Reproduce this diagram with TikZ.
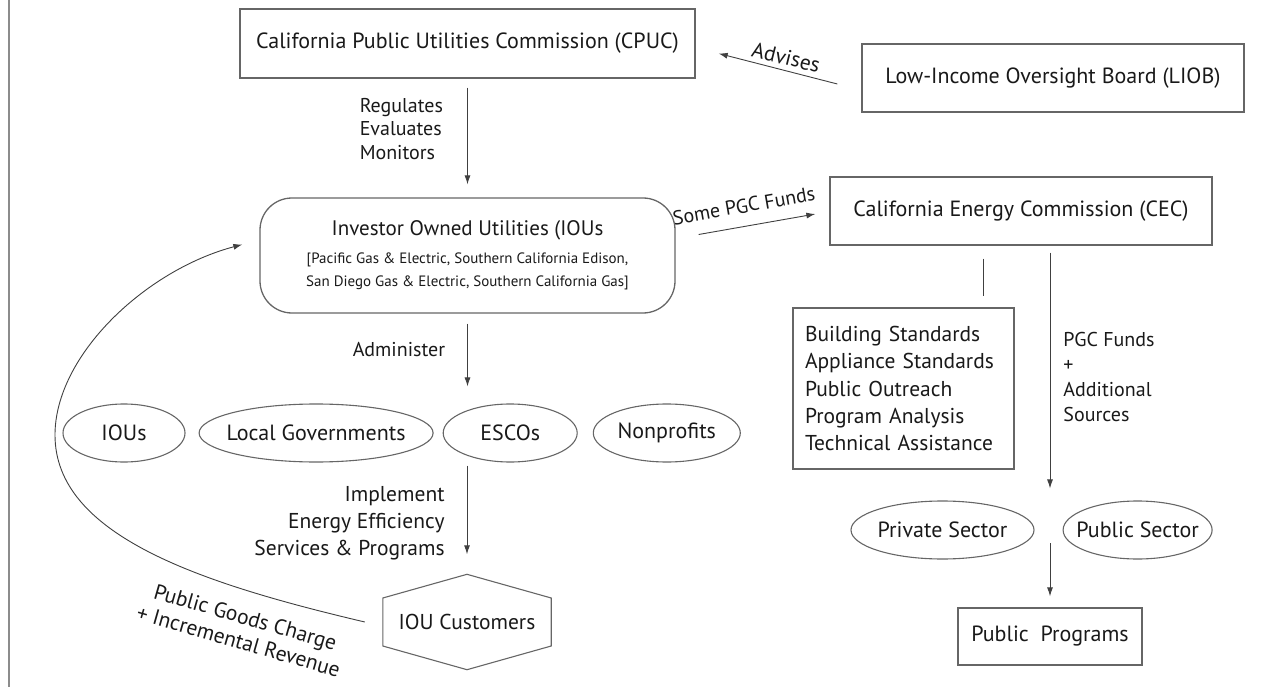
\documentclass[tikz,border=0pt]{standalone}
\usepackage{fontspec}
\setmainfont{PT Sans}
\usetikzlibrary{positioning,shapes.geometric,arrows.meta}

\begin{document}
\begin{tikzpicture}[x=1pt, y=1pt,
                    every node/.style = {font=\fontsize{22}{27}\selectfont, text=black!90},
                    box/.style = {draw=black!60, line width=1.3pt, minimum height=68pt},
                    oval/.style = {draw=black!60, line width=1.1pt, ellipse, minimum height=58pt, inner xsep=-10pt, inner ysep=0pt},
                    arr/.style = {-{Latex[length=9pt,width=6pt]}, line width=0.9pt, draw=black!75},
                    lab/.style = {font=\fontsize{20}{23.5}\selectfont, inner sep=1pt}]
                    \useasboundingbox (0,0) rectangle (1285,-687);
                    \draw[black!45, line width=2.5pt] (9,0) -- (9,-687);

                    \node[box, minimum width=455pt, minimum height=69pt] (cpuc) at (467.5,-43.5) {California Public Utilities Commission (CPUC)};
                    \node[box, minimum width=382pt] (liob) at (1053,-78) {Low-Income Oversight Board (LIOB)};
                    \node[box, rounded corners=32pt, minimum width=415pt, minimum height=115pt, align=center, font=\fontsize{21}{25}\selectfont] (ious) at (467.5,-255.5) {Investor Owned Utilities (IOUs\\[3pt]{\fontsize{15}{21}\selectfont [Pacific Gas \& Electric, Southern California Edison,}\\[-2pt]{\fontsize{15}{21}\selectfont San Diego Gas \& Electric, Southern California Gas]}};
                    \node[box, minimum width=382pt] (cec) at (1021,-211) {California Energy Commission (CEC)};

                    \node[oval, minimum width=122pt] (iou) at (124,-433) {IOUs};
                    \node[oval, minimum width=234pt] (locgov) [right=13pt of iou] {Local Governments};
                    \node[oval, minimum width=134pt] (escos) [right=9pt of locgov] {ESCOs};
                    \node[oval, minimum width=147pt] (nonprof) [right=15pt of escos] {Nonprofits};

                    \node[minimum width=168pt, minimum height=95pt, font=\fontsize{21.5}{26}\selectfont] (cust) at (467,-622) {IOU Customers};
                    \draw[draw=black!60, line width=1.1pt] (cust.north) -- ([yshift=24pt]cust.west) -- ([yshift=-24pt]cust.west) -- (cust.south) -- ([yshift=-24pt]cust.east) -- ([yshift=24pt]cust.east) -- cycle;

                    \node[box, minimum width=221pt, minimum height=161pt, text width=197pt, align=left, font=\fontsize{21.5}{27.3}\selectfont] (stds) at (903.5,-388.5) {Building Standards\\Appliance Standards\\Public Outreach\\Program Analysis\\Technical Assistance};
                    \node[oval, minimum width=183pt] (priv) at (942.5,-530) {Private Sector};
                    \node[oval, minimum width=149pt] (pub) [right=28pt of priv] {Public Sector};
                    \node[box, minimum width=184pt, minimum height=57pt] (prog) at (1050,-636.5) {Public\ \ Programs};

                    \draw[arr] ([shift={(-24,-6)}]liob.west) -- node[lab, pos=0.45, above=4pt, rotate=-14, font=\fontsize{21.5}{26}\selectfont] {Advises} ([shift={(23,-10)}]cpuc.east);
                    \draw[arr, shorten <=9pt, shorten >=13pt] (cpuc) -- node[lab, left=23pt, yshift=9pt, align=left] {Regulates\\Evaluates\\Monitors} (ious);
                    \draw[arr] ([shift={(23,21)}]ious.east) -- node[lab, pos=0.4, above=12pt, rotate=10] {Some PGC Funds} ([shift={(-14,-3)}]cec.west);
                    \draw[arr, shorten <=10pt, shorten >=17pt] (ious.south) -- node[lab, left=21pt, yshift=9pt] {Administer} (ious.south |- escos.north);
                    \draw[arr, shorten <=3pt, shorten >=20pt] (cust.north |- escos.south) -- node[lab, left=21pt, yshift=-5pt, align=right, font=\fontsize{21.5}{27}\selectfont] {Implement\\Energy Efficiency\\Services \& Programs} (cust.north);
                    \draw[arr] ([xshift=-18pt]cust.west) .. controls (199,-583) and (55,-535) .. (55,-435) .. controls (55,-355) and (146,-270) .. ([shift={(-17,11)}]ious.west);
                    \node[lab, rotate=-16, align=center, font=\fontsize{21.5}{25}\selectfont] (pgc) at (242,-629) {Public Goods Charge\\+ Incremental Revenue};

                    \draw[line width=0.9pt, black!75, shorten <=13pt, shorten >=11pt] ([xshift=-38pt]cec.south) -- ([xshift=-38pt]cec.south |- stds.north);
                    \draw[arr, shorten <=7pt, shorten >=12pt] (cec.south -| prog.north) -- node[lab, right=12pt, yshift=-4pt, align=left, font=\fontsize{20}{25}\selectfont] {PGC Funds\\+\\Additional\\Sources} (prog.north |- priv.north);
                    \draw[arr, shorten <=13pt, shorten >=11pt] (prog.north |- priv.center) -- (prog);
                \end{tikzpicture}
\end{document}
